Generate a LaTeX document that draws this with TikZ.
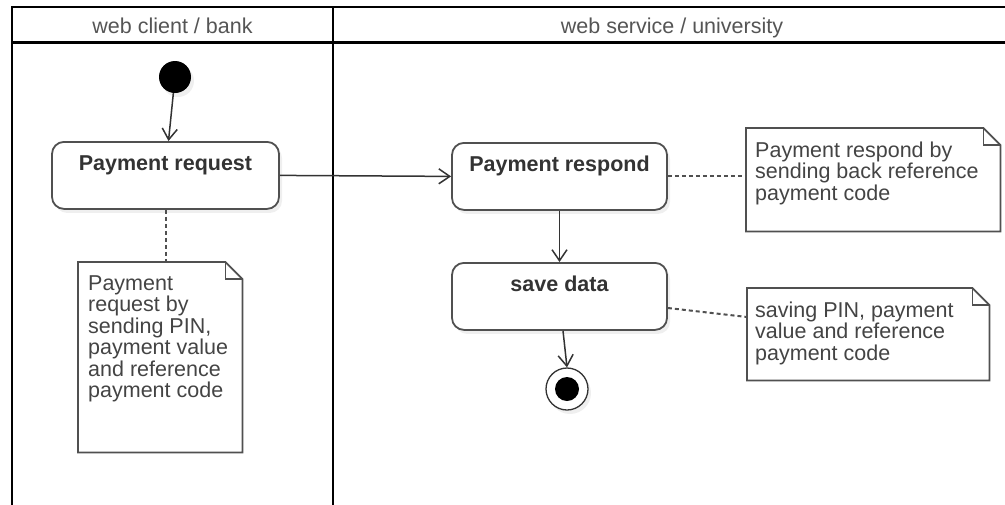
\documentclass[tikz,border=0pt]{standalone}
\usepackage{fontspec}
\setmainfont{Liberation Sans}
\usetikzlibrary{arrows.meta,calc,shadows}
\definecolor{boxc}{HTML}{505050}
\definecolor{txtc}{HTML}{333333}
\definecolor{hdrc}{HTML}{555555}
\definecolor{notec}{HTML}{444444}
\newcommand\umlnote[1]{%
  \draw[noteedge] (#1.north west) -- ($(#1.north east)+(-17,0)$) -- ($(#1.north east)+(0,17)$) -- (#1.south east) -- (#1.south west) -- cycle;
  \draw[noteedge] ($(#1.north east)+(-17,0)$) -- ($(#1.north east)+(-17,17)$) -- ($(#1.north east)+(0,17)$);}
\begin{document}
\begin{tikzpicture}[x=1pt,y=-1pt,
  lane/.style={draw=black, line width=2.6pt},
  hdr/.style={font=\fontsize{21.5}{21.5}\selectfont, text=hdrc, inner sep=0, anchor=base},
  action/.style={draw=boxc, line width=1.8pt, rounded corners=12pt, fill=white,
    inner xsep=0pt, inner ysep=0pt, text height=29pt, text depth=38pt,
    font=\bfseries\fontsize{21.5}{21.5}\selectfont, text=txtc, anchor=north,
    drop shadow={opacity=0.12, shadow xshift=3pt, shadow yshift=-4pt}},
  noteframe/.style={anchor=north west, inner sep=0pt, draw=none},
  noteedge/.style={draw=boxc, line width=1.8pt, line join=miter},
  notetext/.style={anchor=base west, inner sep=0pt, text=notec,
    font=\fontsize{21.5}{21.5}\selectfont},
  arr/.style={draw=txtc, line width=1.5pt, -{Straight Barb[length=11pt,width=15pt]}},
  noteline/.style={draw=boxc, line width=2pt, dash pattern=on 4pt off 3pt},
]
\useasboundingbox (0,0) rectangle (1005,504);
\clip (0,0) rectangle (1005,504);
\fill[white] (0,0) rectangle (1005,504);

% swimlane frame
\draw[lane] (12,7) rectangle (1011,512);
\draw[lane] (12,42.5) -- (1011,42.5);
\draw[lane] (333,7) -- (333,512);
\node[hdr] (h1) at (172.5,33) {web client / bank};
\node[hdr] (h2) at (672,33) {web service / university};

% initial / final
\node[circle, fill=black, minimum size=32pt, inner sep=0pt,
  drop shadow={opacity=0.12, shadow xshift=3pt, shadow yshift=-4pt}] (init) at (175,77) {};
\node[circle, draw=txtc, line width=1.3pt, fill=white, minimum size=42pt, inner sep=0pt,
  drop shadow={opacity=0.12, shadow xshift=3pt, shadow yshift=-4pt}] (fin) at (567,389) {};
\node[circle, fill=black, minimum size=24pt, inner sep=0pt] (finin) at (fin.center) {};

% actions
\node[action, minimum width=227pt] (req) at (165.5,141) {Payment request};
\node[action, minimum width=215pt] (resp) at (559.5,142) {Payment respond};
\node[action, minimum width=215pt] (sd) at (559.5,262) {save data};

% notes
\node[noteframe, minimum width=164pt, minimum height=190pt] (n1) at (78,262) {};
\node[noteframe, minimum width=254pt, minimum height=103pt] (n2) at (746,128) {};
\node[noteframe, minimum width=242pt, minimum height=92pt] (n3) at (747,288) {};
\umlnote{n1}
\umlnote{n2}
\umlnote{n3}
\node[notetext] (t1) at ($(n1.north west)+(10,28)$) {\parbox[t]{150pt}{\raggedright Payment\\request by\\sending PIN,\\payment value\\and reference\\payment code}};
\node[notetext] (t2) at ($(n2.north west)+(9,29)$) {\parbox[t]{240pt}{\raggedright Payment respond by\\sending back reference\\payment code}};
\node[notetext] (t3) at ($(n3.north west)+(8,29)$) {\parbox[t]{230pt}{\raggedright saving PIN, payment\\value and reference\\payment code}};

% control flow
\draw[arr] (init) -- ($(req.north)+(3,0)$);
\draw[arr] (req.east) -- (resp.west);
\draw[arr] (resp.south) -- (sd.north);
\draw[arr] ($(sd.south)+(3.5,0)$) -- (fin.north);

% note anchors
\draw[noteline] (req.south) -- (req.south |- n1.north);
\draw[noteline] ($(resp.north east)+(0,34)$) -- ($(n2.north west)+(0,48)$);
\draw[noteline] ($(sd.north east)+(0,46)$) -- ($(n3.north west)+(0,29)$);
\end{tikzpicture}
\end{document}
